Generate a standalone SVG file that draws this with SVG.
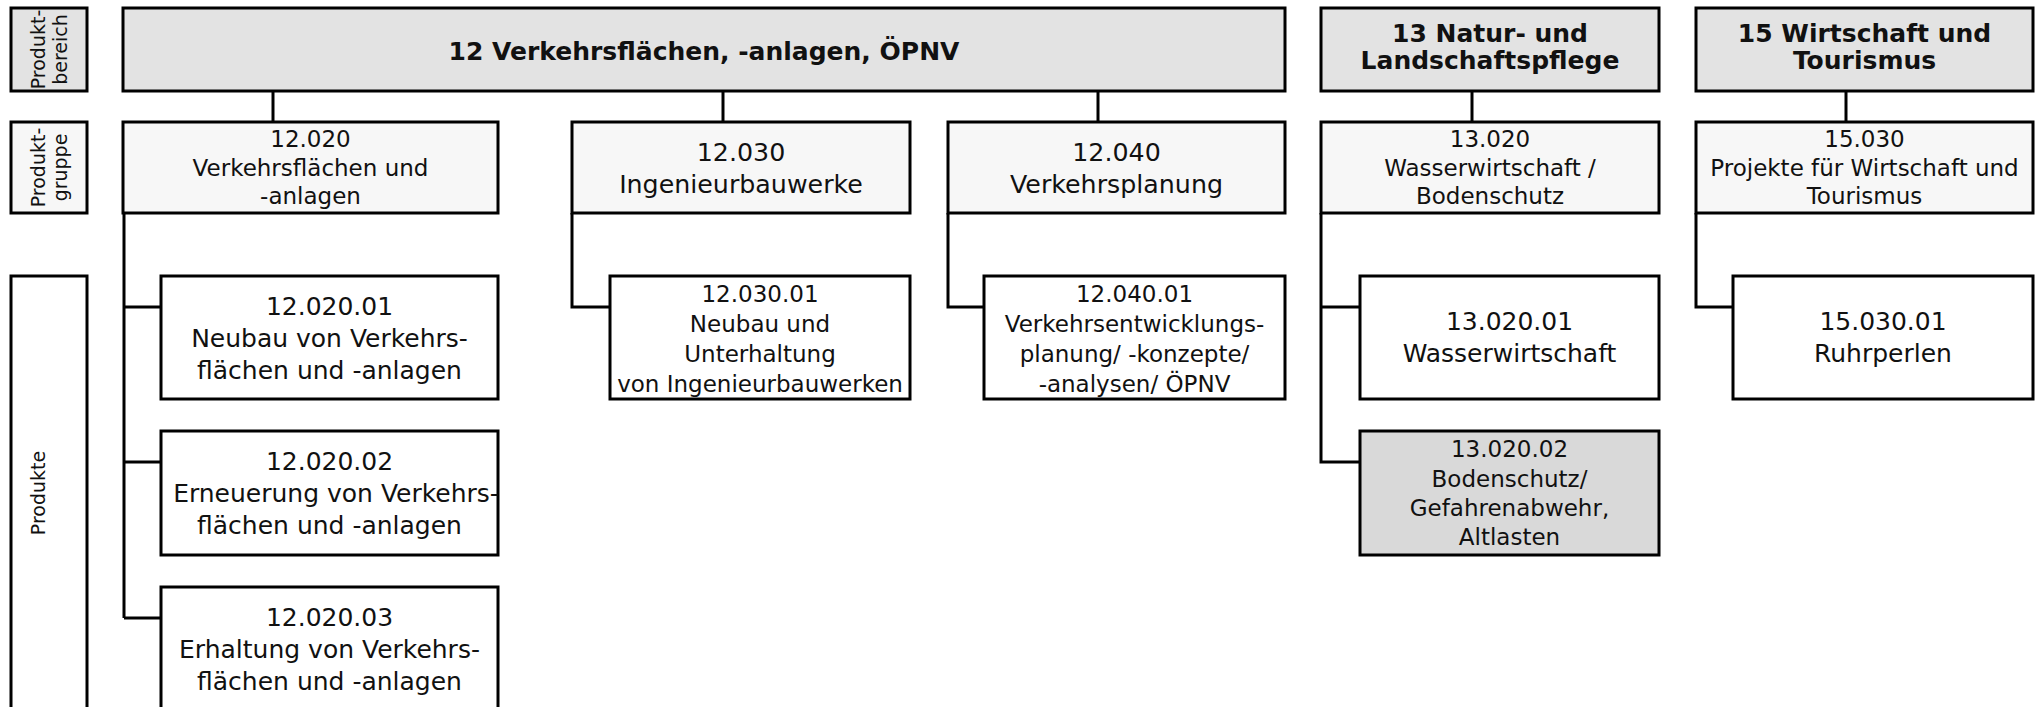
<svg xmlns="http://www.w3.org/2000/svg" width="2044" height="707" viewBox="0 0 2044 707">
<style>
  rect { stroke: #000; stroke-width: 3; }
  .hdr { fill: #e3e3e3; }
  .grp { fill: #f7f7f7; }
  .prd { fill: #ffffff; }
  .alt { fill: #d9d9d9; }
  text { font-family: "DejaVu Sans", Verdana, sans-serif; fill: #111; text-anchor: middle; }
  .h { font-size: 25px; font-weight: bold; }
  .g { font-size: 23px; }
  .g2 { font-size: 25.3px; }
  .p { font-size: 25px; }
  .p4 { font-size: 23px; }
  .lab { font-size: 19px; }
  #connectors path { fill: none; stroke: #000; stroke-width: 3; }
</style>

<g id="label-bereich">
  <rect class="hdr" x="11" y="8" width="76" height="83"/>
  <text class="lab" transform="translate(45,49.5) rotate(-90)">Produkt-</text>
  <text class="lab" transform="translate(67,49.5) rotate(-90)">bereich</text>
</g>
<g id="label-gruppe">
  <rect class="grp" x="11" y="122" width="76" height="91"/>
  <text class="lab" transform="translate(45,167.5) rotate(-90)">Produkt-</text>
  <text class="lab" transform="translate(67,167.5) rotate(-90)">gruppe</text>
</g>
<g id="label-produkte">
  <rect class="prd" x="11" y="276" width="76" height="444"/>
  <text class="lab" transform="translate(45,493) rotate(-90)">Produkte</text>
</g>

<g id="connectors">
  <path d="M273,91 V122"/>
  <path d="M723,91 V122"/>
  <path d="M1098,91 V122"/>
  <path d="M1472,91 V122"/>
  <path d="M1846,91 V122"/>
  <path d="M124,213 V618 M124,307 H161 M124,462 H161 M124,618 H161"/>
  <path d="M572,213 V307 H610"/>
  <path d="M948,213 V307 H984"/>
  <path d="M1321,213 V462 H1360 M1321,307 H1360"/>
  <path d="M1696,213 V307 H1733"/>
</g>

<g id="pb12">
  <rect class="hdr" x="123" y="8" width="1162" height="83"/>
  <text class="h" x="704" y="60">12 Verkehrsflächen, -anlagen, ÖPNV</text>
</g>
<g id="pb13">
  <rect class="hdr" x="1321" y="8" width="338" height="83"/>
  <text class="h" x="1490" y="42">13 Natur- und</text>
  <text class="h" x="1490" y="69">Landschaftspflege</text>
</g>
<g id="pb15">
  <rect class="hdr" x="1696" y="8" width="337" height="83"/>
  <text class="h" x="1864.5" y="42">15 Wirtschaft und</text>
  <text class="h" x="1864.5" y="69">Tourismus</text>
</g>

<g id="pg12020">
  <rect class="grp" x="123" y="122" width="375" height="91"/>
  <text class="g" x="310.5" y="147">12.020</text>
  <text class="g" x="310.5" y="175.5">Verkehrsflächen und</text>
  <text class="g" x="310.5" y="204">-anlagen</text>
</g>
<g id="pg12030">
  <rect class="grp" x="572" y="122" width="338" height="91"/>
  <text class="g2" x="741" y="160.5">12.030</text>
  <text class="g2" x="741" y="192.5">Ingenieurbauwerke</text>
</g>
<g id="pg12040">
  <rect class="grp" x="948" y="122" width="337" height="91"/>
  <text class="g2" x="1116.5" y="160.5">12.040</text>
  <text class="g2" x="1116.5" y="192.5">Verkehrsplanung</text>
</g>
<g id="pg13020">
  <rect class="grp" x="1321" y="122" width="338" height="91"/>
  <text class="g" x="1490" y="147">13.020</text>
  <text class="g" x="1490" y="175.5">Wasserwirtschaft /</text>
  <text class="g" x="1490" y="204">Bodenschutz</text>
</g>
<g id="pg15030">
  <rect class="grp" x="1696" y="122" width="337" height="91"/>
  <text class="g" x="1864.5" y="147">15.030</text>
  <text class="g" x="1864.5" y="175.5">Projekte für Wirtschaft und</text>
  <text class="g" x="1864.5" y="204">Tourismus</text>
</g>

<g id="p1202001">
  <rect class="prd" x="161" y="276" width="337" height="123"/>
  <text class="p" x="329.5" y="315">12.020.01</text>
  <text class="p" x="329.5" y="347">Neubau von Verkehrs-</text>
  <text class="p" x="329.5" y="378.5">flächen und -anlagen</text>
</g>
<g id="p1202002">
  <rect class="prd" x="161" y="431" width="337" height="124"/>
  <text class="p" x="329.5" y="470">12.020.02</text>
  <text class="p" x="336" y="502">Erneuerung von Verkehrs-</text>
  <text class="p" x="329.5" y="533.5">flächen und -anlagen</text>
</g>
<g id="p1202003">
  <rect class="prd" x="161" y="587" width="337" height="133"/>
  <text class="p" x="329.5" y="625.5">12.020.03</text>
  <text class="p" x="329.5" y="657.5">Erhaltung von Verkehrs-</text>
  <text class="p" x="329.5" y="689.5">flächen und -anlagen</text>
</g>
<g id="p1203001">
  <rect class="prd" x="610" y="276" width="300" height="123"/>
  <text class="p4" x="760" y="302">12.030.01</text>
  <text class="p4" x="760" y="332">Neubau und</text>
  <text class="p4" x="760" y="362">Unterhaltung</text>
  <text class="p4" x="760" y="392">von Ingenieurbauwerken</text>
</g>
<g id="p1204001">
  <rect class="prd" x="984" y="276" width="301" height="123"/>
  <text class="p4" x="1134.5" y="302">12.040.01</text>
  <text class="p4" x="1134.5" y="332">Verkehrsentwicklungs-</text>
  <text class="p4" x="1134.5" y="362">planung/ -konzepte/</text>
  <text class="p4" x="1134.5" y="392">-analysen/ ÖPNV</text>
</g>
<g id="p1302001">
  <rect class="prd" x="1360" y="276" width="299" height="123"/>
  <text class="p" x="1509.5" y="330">13.020.01</text>
  <text class="p" x="1509.5" y="362">Wasserwirtschaft</text>
</g>
<g id="p1302002">
  <rect class="alt" x="1360" y="431" width="299" height="124"/>
  <text class="p4" x="1509.5" y="457">13.020.02</text>
  <text class="p4" x="1509.5" y="487">Bodenschutz/</text>
  <text class="p4" x="1509.5" y="516">Gefahrenabwehr,</text>
  <text class="p4" x="1509.5" y="545">Altlasten</text>
</g>
<g id="p1503001">
  <rect class="prd" x="1733" y="276" width="300" height="123"/>
  <text class="p" x="1883" y="330">15.030.01</text>
  <text class="p" x="1883" y="362">Ruhrperlen</text>
</g>
</svg>
